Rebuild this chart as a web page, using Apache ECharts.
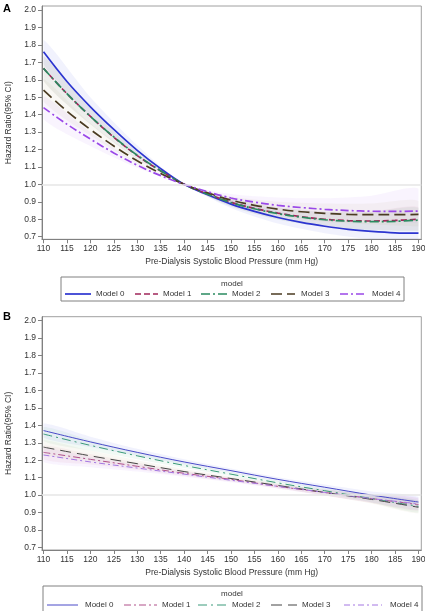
<!DOCTYPE html>
<html>
<head>
<meta charset="utf-8">
<script src="https://cdn.jsdelivr.net/npm/echarts@6/dist/echarts.min.js"></script>
<style>
html,body{margin:0;padding:0;background:#fff;}
#chart{width:425px;height:611px;}
</style>
</head>
<body>
<div id="chart"></div>
<script>
// ---------- DATA ----------
const modelNames = ['Model 0','Model 1','Model 2','Model 3','Model 4'];
const xTicks = [110,115,120,125,130,135,140,145,150,155,160,165,170,175,180,185,190];
const yTicks = [0.7,0.8,0.9,1.0,1.1,1.2,1.3,1.4,1.5,1.6,1.7,1.8,1.9,2.0];

// Panel A lines (x = 110..190 step 5)
const xA = [110,115,120,125,130,135,140,145,150,155,160,165,170,175,180,185,190];
const aM0 = [1.76,1.59,1.445,1.315,1.195,1.09,1.00,0.94,0.887,0.845,0.81,0.782,0.76,0.742,0.73,0.722,0.72];
const aM1 = [1.665,1.52,1.39,1.27,1.165,1.077,1.00,0.945,0.898,0.862,0.835,0.815,0.80,0.792,0.79,0.793,0.80];
const aM2 = [1.665,1.52,1.39,1.272,1.167,1.078,1.00,0.944,0.896,0.86,0.832,0.812,0.797,0.789,0.786,0.788,0.795];
const aM3 = [1.54,1.42,1.315,1.22,1.135,1.063,1.00,0.952,0.91,0.88,0.858,0.843,0.834,0.828,0.826,0.826,0.828];
const aM4 = [1.44,1.345,1.26,1.18,1.11,1.05,1.00,0.958,0.922,0.898,0.88,0.867,0.857,0.85,0.846,0.845,0.847];

// Panel A 95% CI (x = 110..190 step 10)
const xBand = [110,120,130,140,150,160,170,180,190];
const aLo0 = [1.69,1.39,1.165,1.0,0.865,0.775,0.72,0.685,0.665];
const aHi0 = [1.83,1.50,1.225,1.0,0.91,0.845,0.80,0.78,0.78];
const aLo1 = [1.595,1.345,1.145,1.0,0.875,0.80,0.76,0.74,0.735];
const aHi1 = [1.735,1.435,1.185,1.0,0.92,0.87,0.845,0.845,0.87];
const aLo2 = [1.595,1.345,1.147,1.0,0.873,0.797,0.757,0.737,0.732];
const aHi2 = [1.735,1.435,1.187,1.0,0.918,0.868,0.842,0.842,0.865];
const aLo3 = [1.475,1.28,1.12,1.0,0.89,0.82,0.785,0.77,0.76];
const aHi3 = [1.605,1.35,1.15,1.0,0.93,0.90,0.89,0.89,0.905];
const aLo4 = [1.375,1.22,1.095,1.0,0.90,0.84,0.805,0.79,0.78];
const aHi4 = [1.505,1.30,1.125,1.0,0.945,0.925,0.92,0.935,0.975];

// Panel B lines (x = 110..190 step 10)
const xB = [110,120,130,140,150,160,170,180,190];
const bM0 = [1.37,1.305,1.245,1.19,1.14,1.09,1.045,1.0,0.96];
const bM1 = [1.245,1.205,1.165,1.125,1.09,1.05,1.015,0.98,0.945];
const bM2 = [1.35,1.285,1.225,1.17,1.12,1.07,1.025,0.98,0.935];
const bM3 = [1.275,1.225,1.18,1.135,1.095,1.055,1.015,0.975,0.93];
const bM4 = [1.23,1.19,1.155,1.12,1.085,1.05,1.015,0.98,0.95];

// Panel B 95% CI
const bLo0 = [1.33,1.275,1.225,1.175,1.128,1.078,1.03,0.98,0.93];
const bHi0 = [1.41,1.335,1.265,1.205,1.152,1.102,1.06,1.02,0.99];
const bLo1 = [1.205,1.175,1.145,1.11,1.078,1.038,0.998,0.955,0.91];
const bHi1 = [1.285,1.235,1.185,1.14,1.102,1.062,1.032,1.005,0.98];
const bLo2 = [1.31,1.255,1.205,1.155,1.108,1.058,1.01,0.958,0.90];
const bHi2 = [1.39,1.315,1.245,1.185,1.132,1.082,1.04,1.002,0.97];
const bLo3 = [1.235,1.195,1.16,1.12,1.083,1.043,0.998,0.952,0.895];
const bHi3 = [1.315,1.255,1.20,1.15,1.107,1.067,1.032,0.998,0.965];
const bLo4 = [1.19,1.16,1.135,1.105,1.073,1.038,0.998,0.958,0.915];
const bHi4 = [1.27,1.22,1.175,1.135,1.097,1.062,1.032,1.002,0.985];

// ---------- STYLE ----------
const FONT = '"Liberation Sans", Arial, sans-serif';
const colA = ['#2c35d0','#a0265a','#2a8a60','#4b3b22','#9a48e8'];
const colB = ['#4a4ac8','#b0508a','#3a9a7a','#454545','#a477e2'];
const bandCol = ['#4a56e0','#d06090','#50b080','#b0a070','#b870f0'];
const dashA = ['solid',[6,3],[9,3,2,3],[11,5],[8,3,2,3]];
const dashB = ['solid',[7,3,2,3],[9,4,2,4],[11,6],[6,3,2,3]];

const linesA = [aM0,aM1,aM2,aM3,aM4];
const linesB = [bM0,bM1,bM2,bM3,bM4];
const loA = [aLo0,aLo1,aLo2,aLo3,aLo4], hiA = [aHi0,aHi1,aHi2,aHi3,aHi4];
const loB = [bLo0,bLo1,bLo2,bLo3,bLo4], hiB = [bHi0,bHi1,bHi2,bHi3,bHi4];

const GRID_H = 233.3;
const grids = [
  {left:42, top:6, width:379.3, height:GRID_H, show:true, borderColor:'#a0a0a0', borderWidth:1, backgroundColor:'transparent', outerBoundsMode:'none', containLabel:false},
  {left:42, top:316.7, width:379.3, height:GRID_H, show:true, borderColor:'#a0a0a0', borderWidth:1, backgroundColor:'transparent', outerBoundsMode:'none', containLabel:false}
];

function xAxisDef(i){
  return {
    gridIndex:i, type:'value', min:109.68, max:190.6,
    name:'Pre-Dialysis Systolic Blood Pressure (mm Hg)', nameLocation:'middle', nameGap:18,
    nameTextStyle:{fontFamily:FONT, fontSize:8.5, color:'#333'},
    axisLine:{show:true, lineStyle:{color:'#808080', width:1}},
    axisTick:{show:true, customValues:xTicks, length:4, lineStyle:{color:'#808080'}},
    axisLabel:{show:true, customValues:xTicks, margin:5, fontFamily:FONT, fontSize:8.5, color:'#333'},
    splitLine:{show:false}
  };
}
function yAxisDef(i){
  return {
    gridIndex:i, type:'value', min:0.685, max:2.023,
    name:'Hazard Ratio(95% CI)', nameLocation:'middle', nameGap:29,
    nameTextStyle:{fontFamily:FONT, fontSize:8.5, color:'#333'},
    axisLine:{show:true, lineStyle:{color:'#808080', width:1}},
    axisTick:{show:true, customValues:yTicks, length:4, lineStyle:{color:'#808080'}},
    axisLabel:{show:true, customValues:yTicks, margin:6, fontFamily:FONT, fontSize:8.5, color:'#333',
      formatter:v=>v.toFixed(1)},
    splitLine:{show:false}
  };
}

const series = [];
// confidence bands as polygons positioned through the axes (api.coord)
function addBands(gi, xs, los, his, opacity){
  series.push({
    type:'custom', xAxisIndex:gi, yAxisIndex:gi, silent:true, clip:true, z:1,
    encode:{x:0, y:1},
    data: [0,1,2,3,4].map(m=>[xs[0], los[m][0], m]),
    renderItem: function(params, api){
      const m = params.dataIndex;
      const top = xs.map((x,k)=>api.coord([x, his[m][k]]));
      const bot = xs.map((x,k)=>api.coord([x, los[m][k]])).reverse();
      const pts = top.concat(bot);
      let x0=Infinity,y0=Infinity,x1=-Infinity,y1=-Infinity;
      pts.forEach(p=>{x0=Math.min(x0,p[0]);x1=Math.max(x1,p[0]);y0=Math.min(y0,p[1]);y1=Math.max(y1,p[1]);});
      return {
        type:'polygon', shape:{points:pts, smooth:0.25, smoothConstraint:[[x0,y0],[x1,y1]]},
        style:{fill:bandCol[m], opacity:opacity, stroke:null}
      };
    },
    markLine:{silent:true, symbol:'none', label:{show:false},
      lineStyle:{color:'#e6e6e6', width:1.6, type:'solid'}, data:[{yAxis:1}]}
  });
}
function addLines(gi, xs, lines, cols, dashes, width){
  for(let m=0;m<5;m++){
    series.push({
      name:modelNames[m], type:'line', xAxisIndex:gi, yAxisIndex:gi, smooth:0.35, symbol:'none', z:3,
      lineStyle:{color:cols[m], width:width, type:dashes[m]},
      data: xs.map((x,k)=>[x, lines[m][k]])
    });
  }
}
addBands(0, xBand, loA, hiA, 0.08);
addBands(1, xB, loB, hiB, 0.08);
addLines(0, xA, linesA, colA, dashA, 1.7);
addLines(1, xB, linesB, colB, dashB, 1);

// ---------- LEGEND BOXES (graphic) ----------
const legA = {box:[61,277,343,24], titleX:232, titleY:283.5, y:294,
  lines:[[65,91],[135,158],[201,227],[271,295],[340,366]], texts:[96,163,232,301,372]};
const legB = {box:[43,586,379,30], titleX:232, titleY:594, y:605,
  lines:[[47,78],[124,157],[198,226],[271,297],[344,382]], texts:[85,162,232,302,390]};

const graphics = [
  {type:'text', left:3, top:3, style:{text:'A', font:'bold 11px '+FONT, fill:'#000'}},
  {type:'text', left:3, top:311, style:{text:'B', font:'bold 11px '+FONT, fill:'#000'}}
];
function addLegend(L, cols, dashes, width){
  graphics.push({type:'rect', shape:{x:L.box[0], y:L.box[1], width:L.box[2], height:L.box[3]},
    style:{fill:'none', stroke:'#808080', lineWidth:1}});
  graphics.push({type:'text', x:L.titleX, y:L.titleY,
    style:{text:'model', font:'8px '+FONT, fill:'#333', align:'center', verticalAlign:'middle', textAlign:'center', textVerticalAlign:'middle'}});
  for(let m=0;m<5;m++){
    graphics.push({type:'line', shape:{x1:L.lines[m][0], y1:L.y, x2:L.lines[m][1], y2:L.y},
      style:{stroke:cols[m], lineWidth:width, lineDash: dashes[m]==='solid'?null:dashes[m]}});
    graphics.push({type:'text', x:L.texts[m], y:L.y,
      style:{text:modelNames[m], font:'8px '+FONT, fill:'#333', align:'left', verticalAlign:'middle', textAlign:'left', textVerticalAlign:'middle'}});
  }
}
addLegend(legA, colA, dashA, 1.7);
addLegend(legB, colB, dashB, 1);

const chart = echarts.init(document.getElementById('chart'), null, {renderer:'canvas'});
chart.setOption({
  animation:false,
  backgroundColor:'#fff',
  grid: grids,
  xAxis:[xAxisDef(0), xAxisDef(1)],
  yAxis:[yAxisDef(0), yAxisDef(1)],
  series: series,
  graphic: graphics
});
</script>
</body>
</html>
